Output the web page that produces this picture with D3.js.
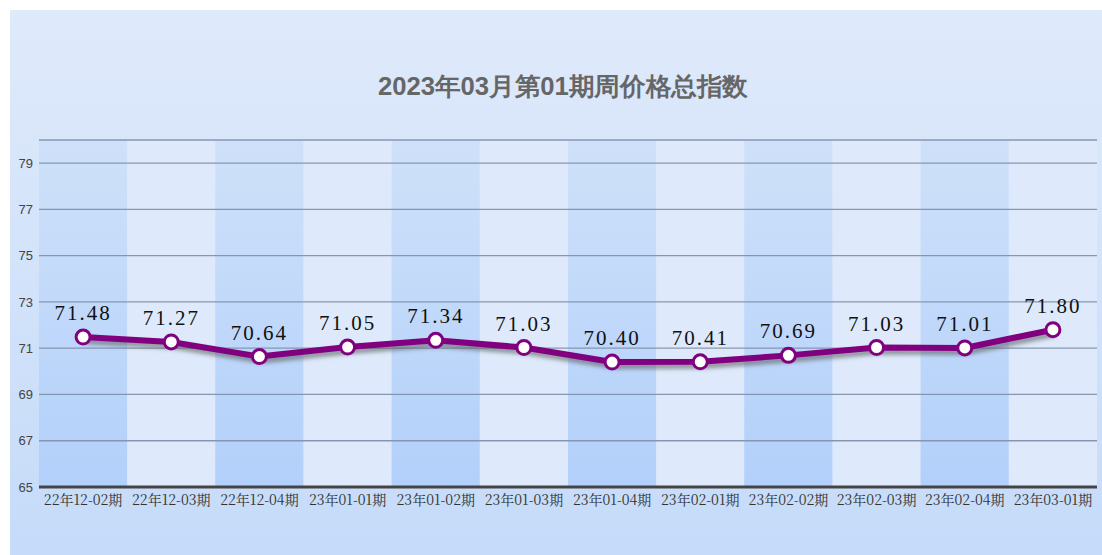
<!DOCTYPE html>
<html><head><meta charset="utf-8">
<script src="https://cdn.jsdelivr.net/npm/d3@7"></script>
<style>html,body{margin:0;padding:0;background:#fff;}svg{display:block;}</style>
</head><body>
<script>
const title = "2023年03月第01期周价格总指数";
const categories = ["22年12-02期","22年12-03期","22年12-04期","23年01-01期","23年01-02期","23年01-03期","23年01-04期","23年02-01期","23年02-02期","23年02-03期","23年02-04期","23年03-01期"];
const values = [71.48,71.27,70.64,71.05,71.34,71.03,70.40,70.41,70.69,71.03,71.01,71.80];
const yTicks = [65,67,69,71,73,75,77,79];
const yDomain = [65,80];

(function(){
const W = 1102, H = 555;
const svg = d3.select("body").append("svg").attr("width", W).attr("height", H);
const defs = svg.append("defs");
const bg = defs.append("linearGradient").attr("id","bg").attr("x1",0).attr("y1",0).attr("x2",0).attr("y2",1);
bg.append("stop").attr("offset","0%").attr("stop-color","#dfeafb");
bg.append("stop").attr("offset","100%").attr("stop-color","#c5dbf9");
const bandG = defs.append("linearGradient").attr("id","band").attr("x1",0).attr("y1",0).attr("x2",0).attr("y2",1);
bandG.append("stop").attr("offset","0%").attr("stop-color","#cfe1f9");
bandG.append("stop").attr("offset","100%").attr("stop-color","#b2d0fb");
const sh = defs.append("filter").attr("id","shadow").attr("x","-10%").attr("y","-50%").attr("width","120%").attr("height","200%");
sh.append("feGaussianBlur").attr("stdDeviation",2);

svg.append("rect").attr("x",10).attr("y",10).attr("width",W-10).attr("height",H-10).attr("fill","url(#bg)");

const pLeft = 39, pRight = 1097, pTop = 140, pBottom = 487;
const x = d3.scaleBand().domain(categories).range([pLeft, pRight]).padding(0);
const y = d3.scaleLinear().domain(yDomain).range([pBottom, pTop]);

svg.append("g").selectAll("rect").data(categories).join("rect")
  .attr("x", d => x(d)).attr("y", pTop).attr("width", x.bandwidth()).attr("height", pBottom - pTop)
  .attr("fill", (d,i) => i % 2 === 0 ? "url(#band)" : "#deeafb");

const grid = yTicks.filter(t => t !== 65).concat([80]);
svg.append("g").selectAll("line").data(grid).join("line")
  .attr("x1", pLeft).attr("x2", pRight).attr("y1", d => y(d)).attr("y2", d => y(d))
  .attr("stroke", "#8796b0").attr("stroke-width", 1.3);

const yAxis = d3.axisLeft(y).tickValues(yTicks).tickSize(0).tickPadding(6);
const ya = svg.append("g").attr("transform", `translate(${pLeft},0)`).call(yAxis);
ya.select(".domain").remove();
ya.selectAll("text").attr("font-family","Liberation Sans, Arial, sans-serif").attr("font-size",13).attr("fill","#444");

const xAxis = d3.axisBottom(x).tickSize(0).tickPadding(8);
const xa = svg.append("g").attr("transform", `translate(0,${pBottom})`).call(xAxis);
xa.select(".domain").remove();
xa.selectAll("text").attr("font-family","'Noto Serif CJK SC','Noto Sans CJK SC',serif").attr("font-size",14).attr("fill","#333");
svg.append("line").attr("x1", pLeft).attr("x2", pRight).attr("y1", pBottom).attr("y2", pBottom)
  .attr("stroke","#444").attr("stroke-width",3);

svg.append("text").attr("x", 563).attr("y", 95).attr("text-anchor","middle")
  .attr("font-family","Liberation Sans, Arial, sans-serif").attr("font-weight","bold")
  .attr("font-size",25).attr("textLength",370).attr("lengthAdjust","spacingAndGlyphs")
  .attr("fill","#666").text(title);

const cx = d => x(d) + x.bandwidth()/2;
const line = d3.line().x((d,i) => cx(categories[i])).y(d => y(d));

svg.append("path").datum(values).attr("d", line).attr("transform","translate(2,4)")
  .attr("fill","none").attr("stroke","#555").attr("stroke-opacity",0.6).attr("stroke-width",6).attr("filter","url(#shadow)");
svg.append("path").datum(values).attr("d", line)
  .attr("fill","none").attr("stroke","#800080").attr("stroke-width",6).attr("stroke-linejoin","round");

svg.append("g").selectAll("circle").data(values).join("circle")
  .attr("cx", (d,i) => cx(categories[i])).attr("cy", d => y(d)).attr("r", 7)
  .attr("fill","#fff").attr("stroke","#800080").attr("stroke-width",3);

svg.append("g").selectAll("text").data(values).join("text")
  .attr("x", (d,i) => cx(categories[i])).attr("y", d => y(d) - 17)
  .attr("text-anchor","middle").attr("font-family","'Liberation Serif','DejaVu Serif',serif")
  .attr("font-size",21).attr("letter-spacing",2).attr("fill","#111").text(d => d.toFixed(2));
})();
</script>
</body></html>
